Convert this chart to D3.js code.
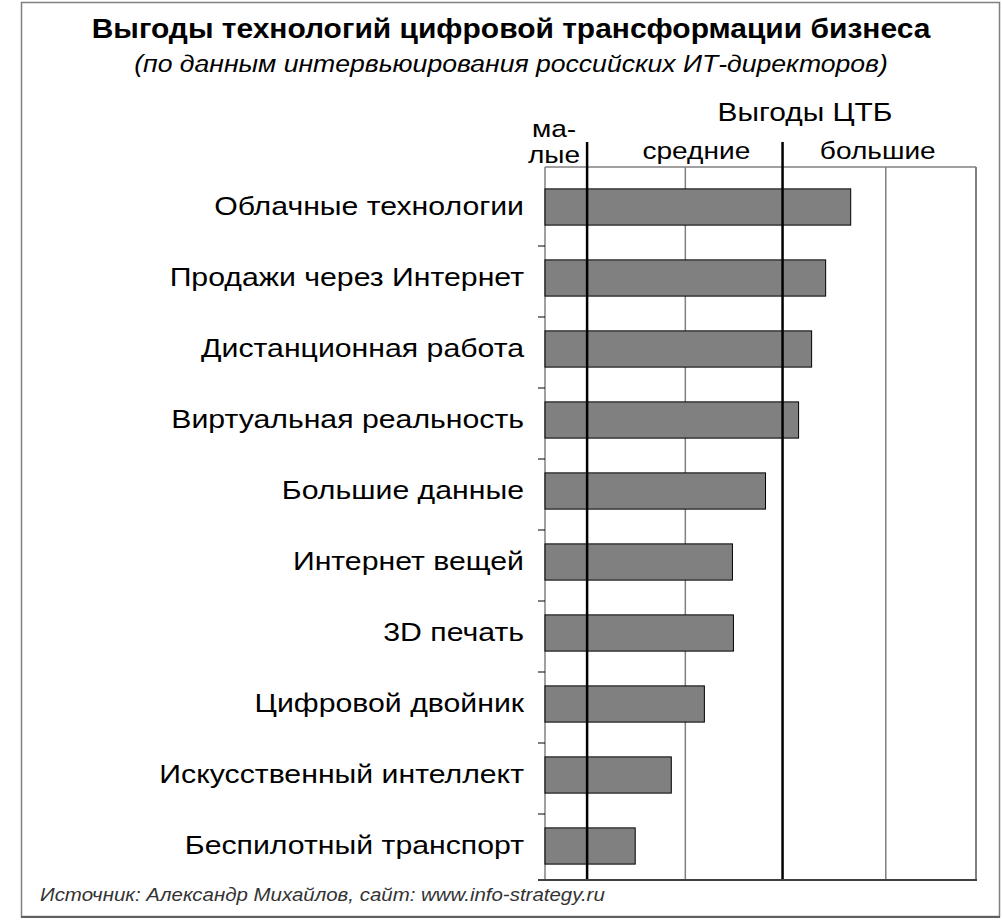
<!DOCTYPE html>
<html><head><meta charset="utf-8">
<script src="https://cdn.jsdelivr.net/npm/d3@7"></script>
<style>body{margin:0;background:#fff}svg{display:block}text{font-family:"Liberation Sans",Arial,sans-serif}</style>
</head><body>
<svg id="c" width="1002" height="924"></svg>
<script>
const categories = ["Облачные технологии","Продажи через Интернет","Дистанционная работа","Виртуальная реальность","Большие данные","Интернет вещей","3D печать","Цифровой двойник","Искусственный интеллект","Беспилотный транспорт"];
const values = [3.05, 2.80, 2.66, 2.53, 2.20, 1.87, 1.88, 1.59, 1.26, 0.90];
const gridValues = [1.4, 3.4];
const thresholdValues = [0.42, 2.37];
const zoneLabels = [{t:["ма-","лые"], v:0.1}, {t:["средние"], v:1.51}, {t:["большие"], v:3.32}];
const title = "Выгоды технологий цифровой трансформации бизнеса";
const subtitle = "(по данным интервьюирования российских ИТ-директоров)";
const axisTitle = "Выгоды ЦТБ";
const source = "Источник: Александр Михайлов, сайт: www.info-strategy.ru";

const svg = d3.select("#c");
const L = 545, R = 976, T = 167, B = 880;
const x = d3.scaleLinear().domain([0, 4.3]).range([L, R]);
const y = d3.scaleBand().domain(categories).range([171.5, 881.5]).paddingInner(0.49).paddingOuter(0.245);

// place text at (px,py) with horizontal stretch sx
function stext(parent, px, py, sx, str){
  return parent.append("text").attr("transform",`translate(${px},${py}) scale(${sx},1)`).text(str);
}

// frame
svg.append("rect").attr("x",21.5).attr("y",2.5).attr("width",978).attr("height",914)
  .attr("fill","#fff").attr("stroke","#808080").attr("stroke-width",1.5);
svg.append("line").attr("x1",21).attr("x2",1000).attr("y1",917).attr("y2",917).attr("stroke","#606060").attr("stroke-width",2);

// titles
stext(svg,511,38,1.07,title).attr("text-anchor","middle").attr("font-size",28).attr("font-weight","bold");
stext(svg,511,72,1.108,subtitle).attr("text-anchor","middle").attr("font-size",24).attr("font-style","italic");

// plot area
svg.append("line").attr("x1",L).attr("x2",R).attr("y1",T).attr("y2",T).attr("stroke","#808080").attr("stroke-width",1.5);
svg.append("line").attr("x1",R).attr("x2",R).attr("y1",T).attr("y2",B).attr("stroke","#808080").attr("stroke-width",2);
svg.selectAll(".grid").data(gridValues).join("line")
  .attr("x1",d=>x(d)).attr("x2",d=>x(d)).attr("y1",T).attr("y2",B)
  .attr("stroke","#808080").attr("stroke-width",1.5);

// y axis
const sxLab = 1.21;
const yAxis = svg.append("g").attr("transform",`translate(${L},0)`)
  .call(d3.axisLeft(y).tickSize(0).tickPadding(21).tickFormat(d=>d));
yAxis.select(".domain").remove();
yAxis.selectAll("text").attr("font-size",25).attr("fill","#000")
  .attr("font-family","Liberation Sans, Arial, sans-serif")
  .attr("x",-21/sxLab).attr("transform",`scale(${sxLab},1)`);
svg.append("line").attr("x1",L).attr("x2",L).attr("y1",T).attr("y2",B).attr("stroke","#808080").attr("stroke-width",1.5);
const step = y.step();
svg.selectAll(".ytick").data(categories.slice(0,-1)).join("line")
  .attr("x1",L-7).attr("x2",L).attr("y1",d=>y(d)+y.bandwidth()+(step-y.bandwidth())/2+3.5)
  .attr("y2",d=>y(d)+y.bandwidth()+(step-y.bandwidth())/2+3.5)
  .attr("stroke","#000").attr("stroke-width",1);

// bars
svg.selectAll(".bar").data(categories).join("rect")
  .attr("x",L).attr("y",d=>y(d)).attr("width",(d,i)=>x(values[i])-L).attr("height",y.bandwidth())
  .attr("fill","#808080").attr("stroke","#000").attr("stroke-width",1);

// thresholds
svg.selectAll(".thr").data(thresholdValues).join("line")
  .attr("x1",d=>x(d)).attr("x2",d=>x(d)).attr("y1",142).attr("y2",B)
  .attr("stroke","#000").attr("stroke-width",2.5);

// bottom axis
svg.append("line").attr("x1",L-7).attr("x2",R+1).attr("y1",B).attr("y2",B).attr("stroke","#404040").attr("stroke-width",2);

// zone labels
const sxZ = 1.17;
zoneLabels.forEach(z=>{
  if (z.t.length===2){
    stext(svg,554,137,sxZ,z.t[0]).attr("font-size",24).attr("text-anchor","middle");
    stext(svg,554,163,sxZ,z.t[1]).attr("font-size",24).attr("text-anchor","middle");
  } else {
    stext(svg,x(z.v),159,sxZ,z.t[0]).attr("font-size",24).attr("text-anchor","middle");
  }
});
stext(svg,805,121,1.15,axisTitle).attr("text-anchor","middle").attr("font-size",26);

// source
stext(svg,40,901,1.077,source).attr("font-size",19).attr("font-style","italic").attr("fill","#333");
</script>
</body></html>
